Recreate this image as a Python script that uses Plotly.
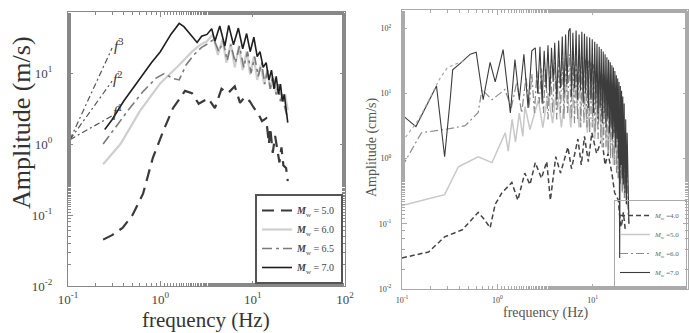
import math
import plotly.graph_objects as go

# ---------------- Left panel data (Amplitude m/s) ----------------
L_f5 = [0.24, 0.30, 0.39, 0.50, 0.65, 0.83, 1.07, 1.37, 1.63, 1.85, 2.2, 2.6, 3.3, 3.9, 4.6, 5.4, 6.4, 7.3, 8.2, 9.3, 10.2, 11.0, 12.0, 12.6, 14.0, 15.0, 15.5, 16.5, 17.5, 18.6, 19.5, 20.5, 21.5, 23.0, 24.0]
L_a5 = [0.045, 0.052, 0.066, 0.10, 0.20, 0.64, 1.5, 3.2, 4.4, 5.6, 5.2, 3.7, 4.4, 3.2, 6.0, 5.2, 6.5, 3.8, 4.6, 4.0, 3.3, 2.9, 2.4, 2.1, 2.3, 1.0, 1.7, 0.75, 1.3, 0.8, 0.55, 0.9, 0.5, 0.46, 0.3]

L_f6 = [0.24, 0.37, 0.60, 1.0, 1.6, 2.2, 2.7, 3.2, 3.7, 4.2, 4.7, 5.2, 5.8, 6.4, 7.1, 7.8, 8.6, 9.4, 10.3, 11.2, 12.2, 13.3, 14.4, 15.5, 16.7, 18.0, 19.5, 21.0, 22.5, 24.0]
L_a6 = [0.52, 1.0, 2.9, 7.2, 13, 20, 25, 28, 35, 18, 30, 14, 26, 12, 24, 11, 20, 9.5, 17, 8, 13, 7, 11, 6, 9, 5, 7, 4, 5, 3]

L_f65 = [0.24, 0.44, 0.65, 0.90, 1.1, 1.4, 1.6, 1.9, 2.3, 2.8, 3.3, 3.8, 4.3, 4.8, 5.3, 5.8, 6.5, 7.2, 8.0, 8.8, 9.6, 10.5, 11.5, 12.5, 13.5, 14.5, 15.5, 16.5, 18.0, 19.0, 20.0, 21.0, 22.0, 23.5]
L_a65 = [1.0, 2.9, 5.5, 8.5, 9.8, 8.3, 8.0, 13, 18, 23, 26, 30, 20, 28, 15, 25, 14, 24, 12, 20, 10, 17, 9, 14, 7, 11, 6, 9, 5, 7, 4, 5, 3.5, 2.5]

L_f7 = [0.25, 0.30, 0.40, 0.60, 0.80, 1.0, 1.3, 1.6, 1.8, 2.2, 2.5, 2.8, 3.2, 3.6, 3.9, 4.4, 5.0, 5.5, 6.2, 7.0, 7.8, 8.6, 9.4, 10.3, 11.2, 12.0, 13.0, 14.0, 15.0, 16.0, 17.0, 18.0, 19.0, 20.0, 21.0, 22.0, 23.0, 24.0]
L_a7 = [1.6, 2.2, 4.0, 8.5, 14, 20, 35, 50, 45, 33, 27, 33, 35, 42, 28, 46, 24, 47, 25, 43, 22, 36, 20, 32, 17, 20, 12, 14, 8, 11, 6, 9, 5, 7, 4, 5, 3, 2]

L_names = ["<i><b>M</b></i><sub>w</sub> = 5.0", "<i><b>M</b></i><sub>w</sub> = 6.0",
           "<i><b>M</b></i><sub>w</sub> = 6.5", "<i><b>M</b></i><sub>w</sub> = 7.0"]

# slope guide lines (f^1, f^2, f^3)
S_f = [0.105, 0.30]
S_a1 = [1.15, 2.5]
S_a2 = [1.15, 7.7]
S_a3 = [1.15, 22.5]
S_labels = ["<i>f</i><sup>1</sup>", "<i>f</i><sup>2</sup>", "<i>f</i><sup>3</sup>"]
S_label_f = [0.29, 0.29, 0.30]
S_label_a = [2.9, 8.6, 25]

# ---------------- Right panel data (Amplitude cm/s) ----------------
R_f4 = [0.10, 0.19, 0.28, 0.43, 0.63, 0.72, 0.84, 0.95, 1.12, 1.42, 1.64, 1.94, 2.2, 2.5, 2.9, 3.3, 3.6, 4.1, 4.6, 5.5, 6.0, 7.0, 7.6, 8.2, 9.0, 9.8, 11.0, 12.5, 13.5, 14.5, 15.9, 17.0, 18.6, 19.5, 20.0, 21.0, 22.0]
R_a4 = [0.03, 0.037, 0.063, 0.081, 0.15, 0.12, 0.087, 0.2, 0.3, 0.43, 0.23, 0.6, 0.4, 0.87, 0.5, 0.9, 0.23, 1.07, 0.6, 1.5, 0.7, 2.0, 0.8, 2.2, 0.9, 2.5, 1.2, 2.0, 0.8, 1.2, 0.6, 0.3, 0.23, 0.1, 0.09, 0.15, 0.08]

R_f5 = [0.10, 0.28, 0.39, 0.63, 0.88, 1.21, 1.3, 1.43, 1.55, 1.7, 1.85, 1.95, 2.2, 2.7, 3.0, 3.4, 3.8, 4.2, 4.7, 5.3, 5.9, 6.5, 7.2, 8.0, 8.8, 9.6, 10.5, 11.5, 12.5, 13.5, 14.5, 15.5, 16.5, 17.5, 18.5, 19.5, 20.5, 21.5, 23.0, 24.0]
R_a5 = [0.19, 0.28, 0.75, 1.07, 0.87, 2.5, 1.3, 4.0, 1.8, 5.0, 2.2, 6.3, 2.8, 8.0, 3.0, 10, 3.5, 13, 3.0, 15, 3.0, 18, 3.0, 16, 2.5, 14, 2.0, 12, 1.5, 9, 1.2, 6, 0.8, 4, 0.5, 2, 0.3, 1.0, 0.2, 0.15]

R_f6 = [0.10, 0.16, 0.28, 0.46, 0.63, 0.69, 0.88, 1.2, 1.4, 1.6, 1.8,
        2.0, 2.15, 2.3, 2.45, 2.6, 2.75, 2.9, 3.05, 3.2, 3.4, 3.6, 3.8, 4.0, 4.2, 4.4, 4.6, 4.8, 5.0,
        5.2, 5.45, 5.7, 5.95, 6.2, 6.45, 6.7, 6.95, 7.2, 7.5, 7.8, 8.1, 8.4, 8.7, 9.0, 9.3, 9.6, 9.9,
        10.2, 10.6, 11.0, 11.4, 11.8, 12.2, 12.6, 13.0, 13.4, 13.8, 14.2, 14.6, 15.0, 15.4, 15.8, 16.2,
        16.6, 17.0, 17.4, 17.8, 18.2, 18.6, 19.0, 19.5, 20.0, 20.5, 21.0, 21.5, 22.0, 22.5, 23.0, 23.5, 24.0]
R_a6 = [0.75, 2.5, 2.8, 3.2, 5.1, 11.5, 8, 11.5, 6, 15, 5,
        18, 6, 20, 5, 22, 7, 24, 5, 25, 4, 28, 5, 30, 4, 32, 5, 35, 4,
        37, 5, 40, 4, 42, 3.5, 40, 4, 38, 3, 36, 3.5, 34, 3, 32, 2.5, 30, 3,
        28, 2.5, 25, 2, 22, 2, 20, 1.5, 18, 1.5, 16, 1.2, 14, 1, 12, 1,
        10, 0.8, 8.5, 0.6, 7, 0.5, 5.5, 0.4, 4, 0.3, 3, 0.25, 2, 0.2, 1.2, 0.15, 0.1]

R_f7 = [0.10, 0.14, 0.23, 0.28, 0.32, 0.34, 0.42, 0.52, 0.60, 0.71, 0.84, 0.95, 1.15, 1.37, 1.53, 1.7, 1.9, 2.1, 2.3,
        2.5, 2.65, 2.8, 2.95, 3.1, 3.25, 3.4, 3.55, 3.7, 3.85, 4.0, 4.2, 4.4, 4.6, 4.8, 5.0, 5.2, 5.4, 5.6, 5.8,
        6.0, 6.2, 6.45, 6.7, 6.95, 7.2, 7.45, 7.7, 7.95, 8.2, 8.45, 8.7, 9.0, 9.3, 9.6, 9.9, 10.2, 10.5, 10.8,
        11.1, 11.4, 11.7, 12.0, 12.3, 12.6, 12.9, 13.2, 13.5, 13.8, 14.1, 14.4, 14.7, 15.0, 15.3, 15.6, 15.9,
        16.2, 16.5, 16.8, 17.1, 17.4, 17.7, 18.0, 18.3, 18.6, 18.9, 19.2, 19.5, 19.8, 20.1, 20.4, 20.7, 21.0,
        21.4, 21.8, 22.2, 22.6, 23.0, 23.5, 24.0]
R_a7 = [4.7, 3.1, 13, 1.07, 8, 23, 30, 40, 43, 8, 30, 15, 47, 5, 33, 8, 40, 6, 45,
        50, 10, 52, 7, 45, 12, 55, 9, 50, 15, 60, 8, 65, 12, 75, 10, 80, 14, 90, 100,
        9, 85, 12, 92, 8, 80, 11, 88, 7, 82, 10, 75, 6, 72, 8, 68, 5, 62, 7,
        58, 4, 52, 6, 48, 3.5, 44, 5, 40, 3, 36, 4, 33, 2.5, 30, 3, 27,
        2, 25, 2.5, 22, 1.5, 19, 2, 17, 1, 15, 0.03, 13, 0.8, 11, 0.5, 9, 0.4,
        7, 0.3, 4, 0.2, 2.5, 0.15, 0.1]

R_fx = [0.10, 0.15, 0.20, 0.25, 0.30, 0.36, 0.45]
R_ax = [1.8, 4.0, 9.0, 17, 25, 28, 32]

R_names = ["<i>M</i><sub>w</sub> =4.0", "<i>M</i><sub>w</sub> =5.0",
           "<i>M</i><sub>w</sub> =6.0", "<i>M</i><sub>w</sub> =7.0"]

tick_vals = [0.01, 0.1, 1, 10, 100]
tick_text = ["10<sup>-2</sup>", "10<sup>-1</sup>", "10<sup>0</sup>", "10<sup>1</sup>", "10<sup>2</sup>"]

SERIF = "Liberation Serif"

fig = go.Figure()

# Left panel traces
left_styles = [
    dict(color="#3a3a3a", width=2.2, dash="12px,7px"),
    dict(color="#cfcfcf", width=2.2),
    dict(color="#7a7a7a", width=1.6, dash="10px,4px,3px,4px"),
    dict(color="#1e1e1e", width=1.6),
]
for fx, ay, nm, st in zip([L_f5, L_f6, L_f65, L_f7], [L_a5, L_a6, L_a65, L_a7], L_names, left_styles):
    fig.add_trace(go.Scatter(x=fx, y=ay, mode="lines", name=nm, line=st,
                             xaxis="x", yaxis="y", legend="legend"))

for sa in [S_a1, S_a2, S_a3]:
    fig.add_trace(go.Scatter(x=S_f, y=sa, mode="lines", showlegend=False,
                             line=dict(color="#555555", width=1.2, dash="6px,3px,2px,3px"),
                             xaxis="x", yaxis="y"))

# Right panel traces
right_styles = [
    dict(color="#444444", width=1.5, dash="5px,3px"),
    dict(color="#c8c8c8", width=1.5),
    dict(color="#8a8a8a", width=1.2, dash="8px,3px,2px,3px"),
    dict(color="#3c3c3c", width=1.1),
]
for fx, ay, nm, st in zip([R_f4, R_f5, R_f6, R_f7], [R_a4, R_a5, R_a6, R_a7], R_names, right_styles):
    fig.add_trace(go.Scatter(x=fx, y=ay, mode="lines", name=nm, line=st,
                             xaxis="x2", yaxis="y2", legend="legend2"))
fig.add_trace(go.Scatter(x=R_fx, y=R_ax, mode="lines", showlegend=False,
                         line=dict(color="#aaaaaa", width=1.2, dash="3px,3px"),
                         xaxis="x2", yaxis="y2"))

# Slope labels (log axes take log10 positions for annotations)
for lx, ly, txt in zip(S_label_f, S_label_a, S_labels):
    fig.add_annotation(x=math.log10(lx), y=math.log10(ly), xref="x", yref="y", text=txt,
                       showarrow=False, font=dict(family=SERIF, size=15, color="#333"),
                       xanchor="left", yanchor="middle")

def axis_common(col, lw, tfs):
    return dict(type="log", showgrid=False, zeroline=False, showline=True, linecolor=col,
                linewidth=lw, mirror="allticks", ticks="inside", ticklen=5, tickcolor=col,
                minor=dict(ticks="inside", ticklen=3, tickcolor=col, showgrid=False),
                tickvals=tick_vals, ticktext=tick_text, automargin=False,
                tickfont=dict(family=SERIF, size=tfs, color="#444"))

xa = axis_common("#888", 1.2, 13)
xa.update(domain=[68 / 689, 345 / 689], range=[-1, 2], anchor="y", ticklabelstandoff=1)
ya = axis_common("#888", 1.2, 13)
ya.update(domain=[47 / 333, 321 / 333], range=[-2, 1.86], anchor="x", ticklabelstandoff=12)

xa2 = axis_common("#aaa", 1.1, 8)
xa2.update(domain=[402 / 689, 688 / 689], range=[-1, 2], anchor="y2", ticklabelstandoff=3)
ya2 = axis_common("#aaa", 1.1, 8)
ya2.update(domain=[44 / 333, 323 / 333], range=[-2, 2.28], anchor="x2", ticklabelstandoff=8)

fig.update_layout(
    width=689, height=333, autosize=False,
    margin=dict(l=0, r=0, t=0, b=0, pad=0),
    paper_bgcolor="white", plot_bgcolor="white",
    xaxis=xa, yaxis=ya, xaxis2=xa2, yaxis2=ya2,
    font=dict(family=SERIF, color="#333"),
    legend=dict(x=343 / 689, y=(333 - 284) / 333, xanchor="right", yanchor="bottom",
                bgcolor="white", bordercolor="#555", borderwidth=2,
                font=dict(family=SERIF, size=10, color="#444"), tracegroupgap=0,
                itemwidth=30),
    legend2=dict(x=687 / 689, y=(333 - 288) / 333, xanchor="right", yanchor="bottom",
                 bgcolor="rgba(255,255,255,0)", bordercolor="#aaa", borderwidth=1,
                 font=dict(family=SERIF, size=7, color="#666"), tracegroupgap=0,
                 itemwidth=30),
    showlegend=True,
)

# Axis titles as annotations
fig.add_annotation(x=206 / 689, y=(333 - 320) / 333, xref="paper", yref="paper",
                   xanchor="center", yanchor="middle",
                   text="frequency (Hz)", showarrow=False,
                   font=dict(family=SERIF, size=21, color="#333"))
fig.add_annotation(x=21 / 689, y=(333 - 123) / 333, xref="paper", yref="paper",
                   xanchor="center", yanchor="middle",
                   text="Amplitude (m/s)", showarrow=False, textangle=-90,
                   font=dict(family=SERIF, size=26, color="#333"))
fig.add_annotation(x=545 / 689, y=(333 - 313) / 333, xref="paper", yref="paper",
                   xanchor="center", yanchor="middle",
                   text="frequency (Hz)", showarrow=False,
                   font=dict(family=SERIF, size=14, color="#555"))
fig.add_annotation(x=372 / 689, y=(333 - 148) / 333, xref="paper", yref="paper",
                   xanchor="center", yanchor="middle",
                   text="Amplitude (cm/s)", showarrow=False, textangle=-90,
                   font=dict(family=SERIF, size=14, color="#555"))

fig.write_html("out.html")
